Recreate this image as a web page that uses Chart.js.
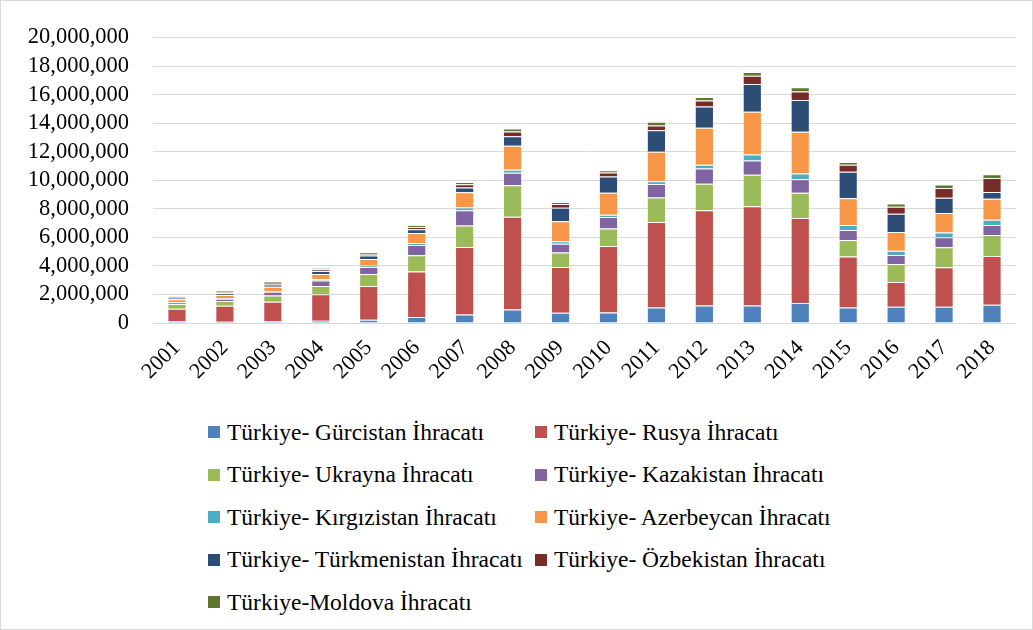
<!DOCTYPE html>
<html lang="tr">
<head>
    <meta charset="UTF-8">
    <title>Türkiye İhracatı 2001-2018</title>
    <script src="https://cdn.jsdelivr.net/npm/chart.js"></script>
    <style>
        body {
            margin: 0;
            background: #ffffff;
            font-family: 'Liberation Serif', 'Times New Roman', serif;
        }

        #frame {
            position: absolute;
            left: 0;
            top: 0;
            width: 1033px;
            height: 630px;
            box-sizing: border-box;
            border: 1px solid #d9d9d9;
        }

        #chart-box {
            position: absolute;
            left: 0;
            top: 0;
            width: 1033px;
            height: 390px;
        }

        #legend {
            position: absolute;
            left: 208px;
            top: 411px;
            display: grid;
            grid-template-columns: 327px 327px;
            grid-auto-rows: 42.5px;
            font-size: 23.5px;
            color: #000;
        }

        #legend .item {
            display: flex;
            align-items: center;
            white-space: nowrap;
        }

        #legend .swatch {
            width: 12px;
            height: 12px;
            margin-right: 7px;
            flex: none;
        }
    </style>
</head>
<body>
    <div id="frame"></div>
    <div id="chart-box"><canvas id="exportChart"></canvas></div>
    <div id="legend"></div>

    <script>
        // years on the x axis
        var years = ['2001', '2002', '2003', '2004', '2005', '2006', '2007', '2008', '2009',
                     '2010', '2011', '2012', '2013', '2014', '2015', '2016', '2017', '2018'];

        // export values (USD)
        var gurcistan    = [140000, 90000, 140000, 160000, 230000, 420000, 600000, 950000, 720000, 740000, 1090000, 1230000, 1230000, 1400000, 1090000, 1140000, 1140000, 1280000];
        var rusya        = [860000, 1120000, 1350000, 1860000, 2370000, 3190000, 4720000, 6490000, 3210000, 4650000, 5980000, 6670000, 6950000, 5950000, 3560000, 1740000, 2770000, 3420000];
        var ukrayna      = [330000, 330000, 440000, 580000, 840000, 1140000, 1510000, 2210000, 1000000, 1230000, 1720000, 1860000, 2210000, 1770000, 1160000, 1260000, 1400000, 1470000];
        var kazakistan   = [100000, 160000, 260000, 370000, 490000, 720000, 1070000, 880000, 630000, 810000, 950000, 1070000, 1000000, 950000, 700000, 630000, 700000, 700000];
        var kirgizistan  = [40000, 50000, 50000, 90000, 90000, 140000, 190000, 210000, 160000, 160000, 190000, 260000, 420000, 400000, 350000, 300000, 330000, 370000];
        var azerbeycan   = [190000, 210000, 300000, 370000, 470000, 700000, 1070000, 1670000, 1400000, 1530000, 2070000, 2580000, 2980000, 2930000, 1880000, 1300000, 1370000, 1470000];
        var turkmenistan = [120000, 120000, 160000, 210000, 230000, 260000, 330000, 670000, 950000, 1140000, 1510000, 1490000, 1950000, 2230000, 1860000, 1280000, 1070000, 470000];
        var ozbekistan   = [70000, 90000, 120000, 120000, 120000, 160000, 230000, 330000, 260000, 280000, 330000, 420000, 580000, 580000, 490000, 490000, 670000, 980000];
        var moldova      = [50000, 70000, 90000, 90000, 90000, 120000, 160000, 210000, 140000, 160000, 260000, 260000, 260000, 300000, 190000, 230000, 260000, 260000];

        // y axis ticks
        var yTicks = [0, 2000000, 4000000, 6000000, 8000000, 10000000, 12000000, 14000000, 16000000, 18000000, 20000000];

        var seriesNames = [
            'Türkiye- Gürcistan İhracatı',
            'Türkiye- Rusya İhracatı',
            'Türkiye- Ukrayna İhracatı',
            'Türkiye- Kazakistan İhracatı',
            'Türkiye- Kırgızistan İhracatı',
            'Türkiye- Azerbeycan İhracatı',
            'Türkiye- Türkmenistan İhracatı',
            'Türkiye- Özbekistan İhracatı',
            'Türkiye-Moldova İhracatı'
        ];
        var seriesData = [gurcistan, rusya, ukrayna, kazakistan, kirgizistan, azerbeycan, turkmenistan, ozbekistan, moldova];
        var seriesColors = ['#4f81bd', '#c0504d', '#9bbb59', '#8064a2', '#4bacc6', '#f79646', '#2c4d75', '#772c2a', '#5f7530'];

        var datasets = seriesNames.map(function (name, i) {
            return {
                label: name,
                data: seriesData[i],
                backgroundColor: seriesColors[i],
                borderColor: 'rgba(255, 255, 255, 0.2)',
                borderWidth: 1,
                barPercentage: 0.4,
                categoryPercentage: 1.0
            };
        });

        var fontFamily = "'Liberation Serif', 'Times New Roman', serif";

        var ctx = document.getElementById('exportChart').getContext('2d');
        var chart = new Chart(ctx, {
            type: 'bar',
            data: {
                labels: years,
                datasets: datasets
            },
            options: {
                responsive: true,
                maintainAspectRatio: false,
                animation: false,
                layout: {
                    padding: { top: 36, right: 17, bottom: 0, left: 0 }
                },
                plugins: {
                    legend: { display: false },
                    tooltip: { enabled: true }
                },
                scales: {
                    x: {
                        stacked: true,
                        grid: { display: false },
                        border: { display: false },
                        ticks: {
                            color: '#000',
                            font: { family: fontFamily, size: 22 },
                            minRotation: 45,
                            maxRotation: 45,
                            autoSkip: false,
                            padding: 4
                        },
                        afterFit: function (scale) {
                            scale.height = 67;
                        }
                    },
                    y: {
                        stacked: true,
                        min: 0,
                        max: 20000000,
                        afterBuildTicks: function (scale) {
                            scale.ticks = yTicks.map(function (v) { return { value: v }; });
                        },
                        grid: {
                            color: '#d9d9d9',
                            lineWidth: 1,
                            drawTicks: false
                        },
                        border: { display: false },
                        ticks: {
                            color: '#000',
                            font: { family: fontFamily, size: 22.5 },
                            padding: 24,
                            autoSkip: false,
                            callback: function (value) {
                                return Number(value).toLocaleString('en-US');
                            }
                        },
                        afterFit: function (scale) {
                            scale.width = 153;
                        }
                    }
                }
            }
        });

        // two-column legend built from the chart's datasets
        var legendBox = document.getElementById('legend');
        chart.data.datasets.forEach(function (ds) {
            var item = document.createElement('div');
            item.className = 'item';
            var swatch = document.createElement('span');
            swatch.className = 'swatch';
            swatch.style.background = ds.backgroundColor;
            var text = document.createElement('span');
            text.textContent = ds.label;
            item.appendChild(swatch);
            item.appendChild(text);
            legendBox.appendChild(item);
        });
    </script>
</body>
</html>
